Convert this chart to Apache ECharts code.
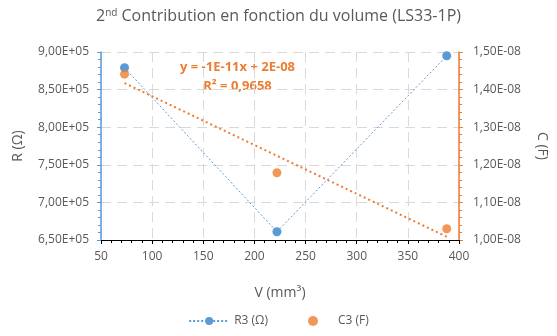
<!DOCTYPE html>
<html>
<head>
<meta charset="utf-8">
<script src="https://cdn.jsdelivr.net/npm/echarts@6/dist/echarts.min.js"></script>
<style>
  html, body { margin: 0; padding: 0; background: #fff; }
  #main { width: 557px; height: 336px; }
</style>
</head>
<body>
<div id="main"></div>
<script>
// data
var volumes = [73, 222, 388];            // V (mm3)
var resistance = [879000, 661000, 895000]; // R3 (Ohm)
var capacitance = [1.441e-8, 1.179e-8, 1.030e-8]; // C3 (F)
var seriesNames = ['R3 (Ω)', 'C3 (F)'];
var trendText = ['y = -1E-11x + 2E-08', 'R² = 0,9658'];

// linear trendline on C3 (least squares over the points)
function linFit(xs, ys) {
    var n = xs.length, mx = 0, my = 0;
    for (var i = 0; i < n; i++) { mx += xs[i]; my += ys[i]; }
    mx /= n; my /= n;
    var sxy = 0, sxx = 0;
    for (var j = 0; j < n; j++) {
        sxy += (xs[j] - mx) * (ys[j] - my);
        sxx += (xs[j] - mx) * (xs[j] - mx);
    }
    var a = sxy / sxx;
    return { a: a, b: my - a * mx };
}
var fit = linFit(volumes, capacitance);
var xMin = Math.min.apply(null, volumes), xMax = Math.max.apply(null, volumes);
var trendData = [[xMin, fit.a * xMin + fit.b], [xMax, fit.a * xMax + fit.b]];

var rData = volumes.map(function (v, i) { return [v, resistance[i]]; });
var cData = volumes.map(function (v, i) { return [v, capacitance[i]]; });

var txt = '#595959';
var blue = '#5B9BD5';
var orange = '#ED7D31';
var font = 'Open Sans';

var chart = echarts.init(document.getElementById('main'));
var option = {
    animation: false,
    textStyle: { fontFamily: font },
    title: {
        text: '2{sup|nd} Contribution en fonction du volume (LS33-1P)',
        left: 'center',
        top: 3,
        textStyle: {
            color: txt, fontSize: 16, fontWeight: 'normal', fontFamily: font,
            rich: { sup: { fontSize: 10, verticalAlign: 'top', color: txt, padding: [0, 0, 7, 0], fontFamily: font } }
        }
    },
    grid: { left: 101, right: 91, top: 52, bottom: 96 },
    legend: {
        bottom: 4,
        left: 'center',
        itemGap: 40,
        itemWidth: 40,
        itemHeight: 10,
        textStyle: { color: txt, fontSize: 12, fontFamily: font },
        data: seriesNames
    },
    xAxis: {
        type: 'value',
        min: 50, max: 400, interval: 50,
        name: 'V (mm³)',
        nameLocation: 'middle',
        nameGap: 46,
        nameTextStyle: { color: txt, fontSize: 14, fontFamily: font },
        axisLine: { lineStyle: { color: '#000', width: 1 } },
        axisTick: { show: true, length: 4, lineStyle: { color: '#000' } },
        minorTick: { show: true, splitNumber: 5, length: 3, lineStyle: { color: '#000' } },
        axisLabel: { color: txt, fontSize: 12, margin: 11, fontFamily: font },
        splitLine: { show: true, lineStyle: { color: '#D9D9D9', type: [10, 6], width: 1 } }
    },
    yAxis: [{
        type: 'value',
        min: 650000, max: 900000, interval: 50000,
        name: 'R (Ω)',
        nameLocation: 'middle',
        nameGap: 76,
        nameTextStyle: { color: txt, fontSize: 14, fontFamily: font },
        axisLine: { show: true, lineStyle: { color: blue, width: 1.5 } },
        axisTick: { show: true, length: 4, lineStyle: { color: blue } },
        minorTick: { show: true, splitNumber: 5, length: 3, lineStyle: { color: blue } },
        axisLabel: {
            color: txt, fontSize: 12, margin: 12, fontFamily: font,
            formatter: function (v) { return (v / 1e5).toFixed(2).replace('.', ',') + 'E+05'; }
        },
        splitLine: { show: true, lineStyle: { color: '#D9D9D9', type: [10, 6], width: 1 } }
    }, {
        type: 'value',
        min: 1e-8, max: 1.5e-8, interval: 1e-9,
        name: 'C (F)',
        nameLocation: 'middle',
        nameGap: 76,
        nameRotate: -90,
        nameTextStyle: { color: txt, fontSize: 14, fontFamily: font },
        axisLine: { show: true, lineStyle: { color: orange, width: 1.5 } },
        axisTick: { show: true, length: 4, lineStyle: { color: orange } },
        minorTick: { show: true, splitNumber: 5, length: 3, lineStyle: { color: orange } },
        axisLabel: {
            color: txt, fontSize: 12, margin: 14, fontFamily: font,
            formatter: function (v) { return (v / 1e-8).toFixed(2).replace('.', ',') + 'E-08'; }
        },
        splitLine: { show: false }
    }],
    series: [{
        name: seriesNames[0],
        type: 'line',
        yAxisIndex: 0,
        data: rData,
        symbol: 'circle',
        symbolSize: 9,
        itemStyle: { color: blue },
        lineStyle: { color: blue, width: 1, type: [2, 2] },
        z: 3
    }, {
        name: seriesNames[1],
        type: 'scatter',
        yAxisIndex: 1,
        data: cData,
        symbol: 'circle',
        symbolSize: 9,
        itemStyle: { color: orange },
        z: 4
    }, {
        name: 'trend',
        type: 'line',
        yAxisIndex: 1,
        data: trendData,
        symbol: 'none',
        lineStyle: { color: orange, width: 2, type: [2, 3] },
        silent: true,
        z: 2
    }],
    graphic: [{
        type: 'text',
        left: 180, top: 58,
        style: { text: trendText[0] + '\n' + trendText[1], fill: orange, font: 'bold 13px ' + font, textAlign: 'center', lineHeight: 19 }
    }]
};
chart.setOption(option);
</script>
</body>
</html>
